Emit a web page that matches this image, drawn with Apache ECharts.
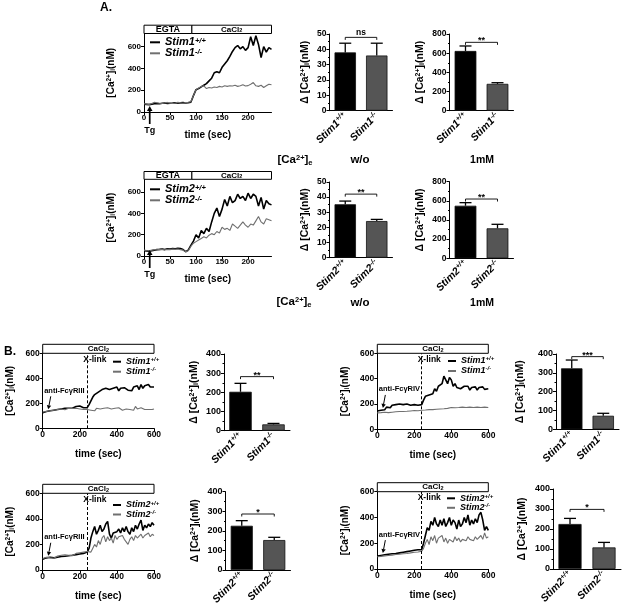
<!DOCTYPE html>
<html><head><meta charset="utf-8">
<script src="https://cdn.jsdelivr.net/npm/echarts@6/dist/echarts.min.js"></script>
<style>html,body{margin:0;padding:0;background:#fff}#c{width:623px;height:605px}</style>
</head><body><div id="c"></div>
<script>
// ---------------- DATA ----------------
const aTime = [0,5,10,15,20,25,30,35,40,45,50,55,60,65,70,75,80,85,90,95,100,105,110,115,120,125,130,135,140,145,150,155,160,165,170,175,180,185,190,195,200,205,210,215,220,225,230,235,240,245];
const a1Wt = [72,70,68,72,75,78,76,80,82,78,80,82,85,80,84,86,82,85,90,150,205,215,230,245,260,285,310,360,370,360,410,440,470,510,555,590,610,580,600,565,590,690,610,700,620,500,600,550,590,575];
const a1Ko = [75,72,70,78,90,85,80,78,82,88,80,78,82,88,84,80,86,90,95,150,205,220,235,240,215,225,220,230,225,235,230,240,235,240,238,245,235,240,250,238,242,255,270,240,235,245,225,240,255,250];
const a2Wt = [50,48,45,50,55,60,62,65,60,68,65,70,68,72,70,60,40,55,100,140,200,170,240,210,260,230,320,400,450,370,440,530,470,560,500,520,580,540,560,520,590,540,580,560,470,550,440,520,490,480];
const a2Ko = [55,52,50,55,60,58,62,60,58,62,60,65,62,66,60,55,40,50,90,120,135,150,165,180,170,195,210,200,230,215,270,250,260,240,300,280,260,290,320,290,270,300,290,330,370,320,300,350,340,330];

const bTime = [0,10,20,30,40,50,60,70,80,90,100,110,120,130,140,150,160,170,180,190,200,210,220,230,240,250,260,270,280,290,300,310,320,330,340,350,360,370,380,390,400,410,420,430,440,450,460,470,480,490,500,510,520,530,540,550,560,570,580,590,600];
const b1Wt = [125,130,135,128,140,135,145,140,150,145,155,150,160,155,160,165,160,170,175,168,178,172,165,160,165,190,220,250,270,275,290,285,310,300,320,335,310,300,320,310,330,300,320,310,325,340,305,320,300,330,320,340,310,350,320,340,330,350,330,320,330];
const b1Ko = [130,125,135,130,140,130,145,140,150,142,155,150,148,155,160,150,158,150,160,165,155,160,150,158,150,160,145,155,140,160,150,155,145,160,150,165,150,155,145,160,155,165,150,145,160,155,170,150,160,145,175,155,150,165,155,150,165,150,160,150,155];
const b2Wt = [145,140,150,145,155,175,180,170,190,180,195,185,200,190,195,185,200,195,190,200,195,205,190,200,195,230,260,250,270,275,280,320,300,340,330,360,420,390,360,410,390,340,360,330,340,320,330,340,325,340,310,330,320,335,310,330,320,335,315,330,320];
const b2Ko = [130,135,132,138,135,140,132,138,135,140,138,142,140,145,140,145,142,148,145,150,148,150,146,152,150,155,152,158,155,160,155,162,158,165,160,168,162,170,165,168,172,165,170,168,172,170,175,168,172,170,175,168,172,170,175,170,172,168,175,170,172];
const b3Wt = [85,90,95,88,100,90,95,105,100,110,105,115,108,118,112,120,115,125,120,130,125,140,130,145,140,170,250,300,340,280,310,350,300,320,360,380,280,250,290,280,300,320,290,330,300,340,300,280,330,300,350,320,360,390,310,350,330,360,340,370,350];
const b3Ko = [90,85,100,92,95,105,92,100,110,100,115,105,118,110,115,125,112,120,130,120,135,125,140,130,145,150,140,170,200,180,230,200,250,270,220,260,230,250,210,270,240,260,250,270,240,230,200,240,260,230,270,250,240,280,250,270,260,290,260,280,270];
const b4Wt = [100,95,105,100,110,105,115,108,118,112,120,115,125,118,130,122,135,128,140,130,145,135,150,140,150,200,260,320,300,370,340,400,350,330,380,340,390,330,360,400,340,380,360,310,380,330,350,400,360,420,340,380,350,390,360,420,440,380,300,330,300];
const b4Ko = [95,100,98,105,102,108,105,112,108,115,112,118,115,120,118,125,120,128,125,132,130,135,132,140,138,160,200,230,190,250,220,260,200,240,230,260,210,240,200,230,240,210,250,220,240,210,230,240,220,250,230,240,220,250,230,240,260,230,280,240,250];

const cats1 = ['Stim1+/+','Stim1-/-'];
const cats2 = ['Stim2+/+','Stim2-/-'];
const barA1wo = [38,36],  errA1wo = [6,8];
const barA1mM = [623,280], errA1mM = [52,12];
const barA2wo = [35.3,24.2], errA2wo = [2.1,1.1];
const barA2mM = [549,313], errA2mM = [32,42];
const barB1 = [203,33], errB1 = [44,5];
const barB2 = [324,72], errB2 = [44,13];
const barB3 = [226,153], errB3 = [26,14];
const barB4 = [225,108], errB4 = [28,25];
const sigA1wo = ['ns',47.8], sigA1mM = ['**',713], sigA2wo = ['**',42], sigA2mM = ['**',619];
const sigB1 = ['**',282], sigB2 = ['***',386], sigB3 = ['*',286], sigB4 = ['*',298];

const aTicksX = [0,50,100,150,200], aTicksY = [0,200,400,600];
const bTicksX = [0,200,400,600], bTicksY = [0,200,400,600];
const aPhases = [['EGTA',0,92],['CaCl2',92,245]];
const bPhases = [['CaCl2',0,600]];
const tgTime = 11, stimTime = 30, xlinkTime = 240;

// ---------------- LAYOUT ----------------
const FONT = '"Liberation Sans", Arial, Helvetica, sans-serif';
const L = {
  a1Line:{left:144, top:33.5, width:127.5, height:78.5},
  a2Line:{left:144, top:179.3, width:127.5, height:76.7},
  a1Wo:{left:329.5, top:34, width:63, height:76.7},
  a1mM:{left:449.5, top:34, width:64, height:76.7},
  a2Wo:{left:329.5, top:182, width:63, height:75.7},
  a2mM:{left:449.5, top:181.7, width:64, height:76.6},
  b1Line:{left:42.7, top:353.3, width:111.3, height:75},
  b2Line:{left:377.3, top:353.3, width:111, height:76},
  b3Line:{left:42.7, top:493.3, width:111.3, height:76.7},
  b4Line:{left:377.3, top:491.7, width:111, height:77.3},
  b1Bar:{left:224, top:354, width:66, height:76.7},
  b2Bar:{left:556, top:354, width:63, height:75.3},
  b3Bar:{left:225.5, top:491.7, width:65, height:78.3},
  b4Bar:{left:553, top:489, width:68, height:80}
};

function richFor(size, italic, lh) {
  const st = italic ? 'italic' : 'normal';
  const s2 = Math.round(size*0.66*2)/2;
  lh = lh || size + 2;
  return {
    n:{fontSize:size, fontWeight:'bold', fontStyle:st, fontFamily:FONT, color:'#000', lineHeight:lh},
    sp:{fontSize:s2, fontWeight:'bold', fontStyle:st, fontFamily:FONT, color:'#000', verticalAlign:'top', lineHeight:s2},
    sb:{fontSize:s2, fontWeight:'bold', fontStyle:st, fontFamily:FONT, color:'#000', verticalAlign:'bottom', lineHeight:s2}
  };
}
const caName = '{n|[Ca}{sp|2+}{n|]}{sb|i}{n|(nM)}';
const dCaName = '{n|Δ [Ca}{sp|2+}{n|]}{sb|i}{n|(nM)}';
function stimFmt(name){ const m = name.match(/^(Stim\d)(.*)$/); return '{n|'+m[1]+'}{sp|'+m[2]+'}'; }
function zip(t, v){ return t.map((x,i)=>[x, v[i]]); }

const option = {animation:false, backgroundColor:'#fff', grid:[], xAxis:[], yAxis:[], series:[], legend:[]};
const axisLineS = {show:true, onZero:false, lineStyle:{color:'#000', width:1}};
const tickLab = (size, margin, custom) => ({fontSize:size, fontWeight:'bold', color:'#000', fontFamily:FONT, margin:margin, customValues:custom});

function lineChart(cfg) {
  const gi = option.grid.length;
  option.grid.push(Object.assign({outerBoundsMode:'none'}, L[cfg.key]));
  option.xAxis.push({type:'value', gridIndex:gi, min:0, max:cfg.xMax,
    name:'time (sec)', nameLocation:'middle', nameGap:cfg.xNameGap, nameMoveOverlap:false,
    nameTextStyle:{fontSize:10, fontWeight:'bold', color:'#000', fontFamily:FONT},
    axisLine:axisLineS, axisTick:{show:true, length:3, customValues:cfg.xTicks, lineStyle:{color:'#000'}},
    axisLabel:tickLab(cfg.tick, 2, cfg.xTicks), splitLine:{show:false}});
  option.yAxis.push({type:'value', gridIndex:gi, min:0, max:cfg.yMax,
    name:caName, nameLocation:'middle', nameRotate:90, nameGap:cfg.yNameGap, nameMoveOverlap:false,
    nameTextStyle:{rich:richFor(10,false,11)},
    axisLine:axisLineS, axisTick:{show:true, length:3, customValues:cfg.yTicks, lineStyle:{color:'#000'}},
    axisLabel:tickLab(cfg.tick, 3, cfg.yTicks), splitLine:{show:false}});
  const blk = {type:'line', xAxisIndex:gi, yAxisIndex:gi, name:cfg.names[0], data:zip(cfg.time, cfg.wt),
    showSymbol:false, symbol:'none', lineStyle:{color:'#000', width:1.6}, itemStyle:{color:'#000'}, z:3};
  if (cfg.xlink) {
    blk.markLine = {silent:true, symbol:['none','none'], label:{show:false}, animation:false,
      lineStyle:{type:[3,2], color:'#000', width:1}, emphasis:{disabled:true}, data:[{xAxis:xlinkTime}]};
  }
  option.series.push(blk);
  option.series.push({type:'line', xAxisIndex:gi, yAxisIndex:gi, name:cfg.names[1], data:zip(cfg.time, cfg.ko),
    showSymbol:false, symbol:'none', lineStyle:{color:'#707070', width:1.1}, itemStyle:{color:'#707070'}, z:4});
  option.legend.push({left:cfg.legend[0], top:cfg.legend[1], orient:'vertical', itemGap:0, padding:0,
    itemWidth:cfg.legend[2], itemHeight:2, icon:'rect', selectedMode:false, data:cfg.names,
    formatter:stimFmt, textStyle:{rich:richFor(cfg.legend[3], true, cfg.legend[4])}});
  return gi;
}

function renderErr(params, api) {
  const i = api.value(0), v = api.value(1), e = api.value(2);
  const b = api.coord([i, v]), t = api.coord([i, v+e]);
  const hw = 6;
  return {type:'group', children:[
    {type:'line', shape:{x1:b[0], y1:b[1], x2:t[0], y2:t[1]}, style:{stroke:'#000', lineWidth:1.3}},
    {type:'line', shape:{x1:t[0]-hw, y1:t[1], x2:t[0]+hw, y2:t[1]}, style:{stroke:'#000', lineWidth:1.3}}
  ]};
}
function makeSig(label) {
  return function(params, api) {
    const p0 = api.coord([api.value(0), api.value(2)]);
    const p1 = api.coord([api.value(1), api.value(2)]);
    const fs = label === 'ns' ? 8.5 : 9;
    return {type:'group', children:[
      {type:'polyline', shape:{points:[[p0[0],p0[1]+2.5],[p0[0],p0[1]],[p1[0],p1[1]],[p1[0],p1[1]+2.5]]},
        style:{stroke:'#000', lineWidth:0.9, fill:null}},
      {type:'text', x:(p0[0]+p1[0])/2, y:p0[1] + (label === 'ns' ? 0 : 3), style:{text:label, fill:'#000',
        font:'bold '+fs+'px '+FONT, textAlign:'center', textVerticalAlign:'bottom'}}
    ]};
  };
}

function barChart(cfg) {
  const gi = option.grid.length;
  option.grid.push(Object.assign({outerBoundsMode:'none'}, L[cfg.key]));
  option.xAxis.push({type:'category', gridIndex:gi, data:cfg.cats,
    axisLine:{show:true, lineStyle:{color:'#000', width:1}}, axisTick:{show:false},
    axisLabel:{rotate:45, margin:4, interval:0, formatter:stimFmt, rich:richFor(10.5, true, 12)}});
  option.yAxis.push({type:'value', gridIndex:gi, min:0, max:cfg.yMax, interval:cfg.yInt,
    name:dCaName, nameLocation:'middle', nameRotate:90, nameGap:cfg.yNameGap, nameMoveOverlap:false,
    nameTextStyle:{rich:richFor(10.5,false,11)},
    axisLine:axisLineS, axisTick:{show:true, length:3, lineStyle:{color:'#000'}},
    minorTick:{show:true, splitNumber:2, length:1.5, lineStyle:{color:'#000'}},
    axisLabel:tickLab(cfg.tick, 3), splitLine:{show:false}, minorSplitLine:{show:false}});
  option.series.push({type:'bar', xAxisIndex:gi, yAxisIndex:gi, barWidth:'68%',
    data:cfg.vals.map((v,i)=>({value:v, itemStyle:{color: i ? '#555555' : '#000000'}})),
    itemStyle:{borderColor:'#111', borderWidth:0.8}});
  option.series.push({type:'custom', xAxisIndex:gi, yAxisIndex:gi, renderItem:renderErr, encode:{x:0, y:1},
    data:cfg.vals.map((v,i)=>[i, v, cfg.errs[i]]), z:5, silent:true});
  option.series.push({type:'custom', xAxisIndex:gi, yAxisIndex:gi, renderItem:makeSig(cfg.sig[0]), encode:{x:0, y:1},
    data:[[0, 1, cfg.sig[1]]], z:5, silent:true});
  return gi;
}

const names1 = ['Stim1+/+','Stim1-/-'], names2 = ['Stim2+/+','Stim2-/-'];
const gA1 = lineChart({key:'a1Line', time:aTime, wt:a1Wt, ko:a1Ko, names:names1, xMax:245, yMax:720,
  xTicks:aTicksX, yTicks:aTicksY, xNameGap:18, yNameGap:27, tick:8, legend:[150,36.8,10,11,11]});
const gA2 = lineChart({key:'a2Line', time:aTime, wt:a2Wt, ko:a2Ko, names:names2, xMax:245, yMax:720,
  xTicks:aTicksX, yTicks:aTicksY, xNameGap:18, yNameGap:27, tick:8, legend:[150,183.8,10,11,11]});
const gB1 = lineChart({key:'b1Line', time:bTime, wt:b1Wt, ko:b1Ko, names:names1, xMax:600, yMax:600, xlink:true,
  xTicks:bTicksX, yTicks:bTicksY, xNameGap:21, yNameGap:26.5, tick:8.5, legend:[113,356.2,8,9,11]});
const gB2 = lineChart({key:'b2Line', time:bTime, wt:b2Wt, ko:b2Ko, names:names1, xMax:600, yMax:600, xlink:true,
  xTicks:bTicksX, yTicks:bTicksY, xNameGap:21, yNameGap:26.5, tick:8.5, legend:[448,355.5,8,9,11]});
const gB3 = lineChart({key:'b3Line', time:bTime, wt:b3Wt, ko:b3Ko, names:names2, xMax:600, yMax:600, xlink:true,
  xTicks:bTicksX, yTicks:bTicksY, xNameGap:21, yNameGap:26.5, tick:8.5, legend:[113,500,8,9,10]});
const gB4 = lineChart({key:'b4Line', time:bTime, wt:b4Wt, ko:b4Ko, names:names2, xMax:600, yMax:600, xlink:true,
  xTicks:bTicksX, yTicks:bTicksY, xNameGap:21, yNameGap:26.5, tick:8.5, legend:[447,493.3,8,9,10]});

barChart({key:'a1Wo', cats:cats1, vals:barA1wo, errs:errA1wo, sig:sigA1wo, yMax:50, yInt:10, yNameGap:19, tick:8.5});
barChart({key:'a1mM', cats:cats1, vals:barA1mM, errs:errA1mM, sig:sigA1mM, yMax:800, yInt:200, yNameGap:24, tick:8.5});
barChart({key:'a2Wo', cats:cats2, vals:barA2wo, errs:errA2wo, sig:sigA2wo, yMax:50, yInt:10, yNameGap:19, tick:8.5});
barChart({key:'a2mM', cats:cats2, vals:barA2mM, errs:errA2mM, sig:sigA2mM, yMax:800, yInt:200, yNameGap:24, tick:8.5});
barChart({key:'b1Bar', cats:cats1, vals:barB1, errs:errB1, sig:sigB1, yMax:400, yInt:100, yNameGap:24, tick:9});
barChart({key:'b2Bar', cats:cats1, vals:barB2, errs:errB2, sig:sigB2, yMax:400, yInt:100, yNameGap:30, tick:9});
barChart({key:'b3Bar', cats:cats2, vals:barB3, errs:errB3, sig:sigB3, yMax:400, yInt:100, yNameGap:24.5, tick:9});
barChart({key:'b4Bar', cats:cats2, vals:barB4, errs:errB4, sig:sigB4, yMax:400, yInt:100, yNameGap:25, tick:9});

const chart = echarts.init(document.getElementById('c'), null, {renderer:'canvas'});
chart.setOption(option);

// ---------------- ANNOTATIONS ----------------
const G = [];
function P(gi, x, y){ return chart.convertToPixel({gridIndex:gi}, [x, y]); }
function txt(x, y, text, size, opts) {
  opts = opts || {};
  const st = {text:text, x:0, y:0, fill:'#000', font:'bold '+size+'px '+FONT,
    textAlign:opts.align || 'center', textVerticalAlign:opts.valign || 'middle'};
  if (opts.rich) st.rich = opts.rich;
  G.push({type:'text', x:x, y:y, style:st, silent:true, z:20});
}
function arrow(x1, y1, x2, y2, w, hl, hw) {
  const dx = x2-x1, dy = y2-y1, len = Math.hypot(dx, dy), ux = dx/len, uy = dy/len;
  const bx = x2-ux*hl, by = y2-uy*hl;
  G.push({type:'line', shape:{x1:x1, y1:y1, x2:bx, y2:by}, style:{stroke:'#000', lineWidth:w}, silent:true, z:20});
  G.push({type:'polygon', shape:{points:[[x2,y2],[bx-uy*hw,by+ux*hw],[bx+uy*hw,by-ux*hw]]}, style:{fill:'#000'}, silent:true, z:20});
}
function phaseLabel(s){ const m = s.match(/^(.*?)(\d)$/); return m ? '{n|'+m[1]+'}{sb|'+m[2]+'}' : '{n|'+s+'}'; }
function headerBox(gi, phases, yMax, h) {
  phases.forEach(ph => {
    const p0 = P(gi, ph[1], yMax), p1 = P(gi, ph[2], yMax);
    G.push({type:'rect', shape:{x:p0[0], y:p0[1]-h, width:p1[0]-p0[0], height:h},
      style:{fill:'#fff', stroke:'#000', lineWidth:1}, silent:true, z:15});
    const sz = ph[0] === 'EGTA' ? 9 : 8;
    txt((p0[0]+p1[0])/2, p0[1]-h/2, phaseLabel(ph[0]), sz, {rich:richFor(sz, false, h)});
  });
}
function tgArrow(gi) {
  const b = P(gi, tgTime, 0);
  arrow(b[0], b[1]+12, b[0], b[1]-6, 1.7, 5, 2.8);
  txt(b[0], b[1]+18.5, 'Tg', 9);
}
function stimArrow(gi, wt, label) {
  const idx = bTime.indexOf(stimTime);
  const tip = P(gi, stimTime, wt[idx]); tip[1] -= 3;
  const tail = [tip[0]+2.5, tip[1]-13];
  arrow(tail[0], tail[1], tip[0], tip[1], 1, 4, 2.2);
  const g0 = P(gi, 0, 0);
  txt(g0[0]+1.5, tail[1]-5.5, label, 7.5, {align:'left'});
}
function xlinkLabel(gi) {
  const p = P(gi, xlinkTime, 600);
  txt(p[0]-4, p[1]+6, 'X-link', 8.5, {align:'left'});
}

headerBox(gA1, aPhases, 720, 8.3);
headerBox(gA2, aPhases, 720, 7.8);
[gB1, gB2, gB3, gB4].forEach(g => headerBox(g, bPhases, 600, 9));
tgArrow(gA1); tgArrow(gA2);
stimArrow(gB1, b1Wt, 'anti-FcγRIII');
stimArrow(gB2, b2Wt, 'anti-FcγRIV');
stimArrow(gB3, b3Wt, 'anti-FcγRIII');
stimArrow(gB4, b4Wt, 'anti-FcγRIV');
[gB1, gB2, gB3, gB4].forEach(xlinkLabel);

const caE = '{n|[Ca}{sp|2+}{n|]}{sb|e}';
txt(295, 160, caE, 11.5, {rich:richFor(11.5, false, 13)});
txt(294, 302, caE, 11.5, {rich:richFor(11.5, false, 13)});
txt(360, 160, 'w/o', 11.5); txt(482, 160, '1mM', 10.5);
txt(360, 302.7, 'w/o', 11.5); txt(482, 302.7, '1mM', 10.5);
txt(106, 8, 'A.', 12); txt(10, 352, 'B.', 12);

chart.setOption({graphic:G});
</script></body></html>
